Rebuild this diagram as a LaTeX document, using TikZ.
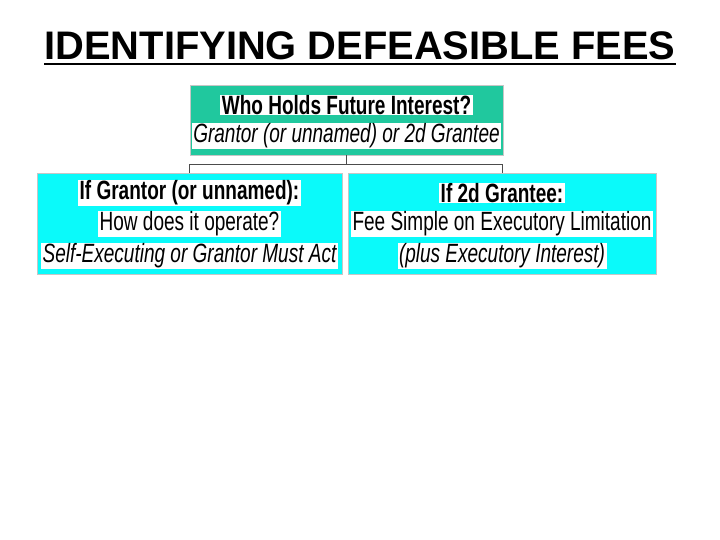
\documentclass[tikz,border=0pt]{standalone}
\usepackage{fontspec}
\setmainfont{Liberation Sans}
\newfontfamily\narrowsf[FakeStretch=0.72]{Liberation Sans}
\usetikzlibrary{positioning}

\definecolor{topgreen}{RGB}{32,200,158}
\definecolor{boxcyan}{RGB}{10,250,250}

\tikzset{
  box/.style={draw=gray!45, line width=0.8pt, inner sep=0pt},
  textline/.style={fill=white, inner xsep=1.5pt, inner ysep=0.5pt, font=\narrowsf\fontsize{26.5}{26.5}\selectfont},
  conn/.style={draw=black!70, line width=0.6pt},
}

\begin{document}
\begin{tikzpicture}[x=1bp, y=-1bp]
\useasboundingbox (0,0) rectangle (720,540);

% title
\node[inner sep=0pt, font=\bfseries\fontsize{40}{40}\selectfont] (title) at (360,46) {IDENTIFYING DEFEASIBLE FEES};
\draw[line width=2.4bp] ([yshift=-4bp]title.base west) -- ([yshift=-4bp]title.base east);

% boxes
\node[box, fill=topgreen, minimum width=313bp, minimum height=70bp] (who) at (346.5,120) {};
\node[box, fill=boxcyan, minimum width=305bp, minimum height=101bp] (grantor) at (189.5,223.5) {};
\node[box, fill=boxcyan, minimum width=308bp, minimum height=101bp] (grantee) at (502,223.5) {};

% lines of text
\node[textline, font=\narrowsf\bfseries\fontsize{26.5}{26.5}\selectfont] (whoA) at (346.5,105) {Who Holds Future Interest?};
\node[textline, font=\narrowsf\itshape\fontsize{26.5}{26.5}\selectfont] (whoB) at (346.5,136) {Grantor (or unnamed) or 2d Grantee};

\node[textline, font=\narrowsf\bfseries\fontsize{26.5}{26.5}\selectfont] (grantorA) at (189.5,193) {If Grantor (or unnamed):};
\node[textline] (grantorB) at (189.5,224) {How does it operate?};
\node[textline, font=\narrowsf\itshape\fontsize{26.5}{26.5}\selectfont] (grantorC) at (189.5,256) {Self-Executing or Grantor Must Act};

\node[textline, font=\narrowsf\bfseries\fontsize{26.5}{26.5}\selectfont] (granteeA) at (502,193) {If 2d Grantee:};
\node[textline] (granteeB) at (502,224) {Fee Simple on Executory Limitation};
\node[textline, font=\narrowsf\itshape\fontsize{26.5}{26.5}\selectfont] (granteeC) at (502,256) {(plus Executory Interest)};

% connectors
\coordinate (split) at (346.5,164);
\draw[conn] (who.south) -- (split);
\draw[conn] (split) -| (grantor.north);
\draw[conn] (split) -| (grantee.north);

\end{tikzpicture}
\end{document}
